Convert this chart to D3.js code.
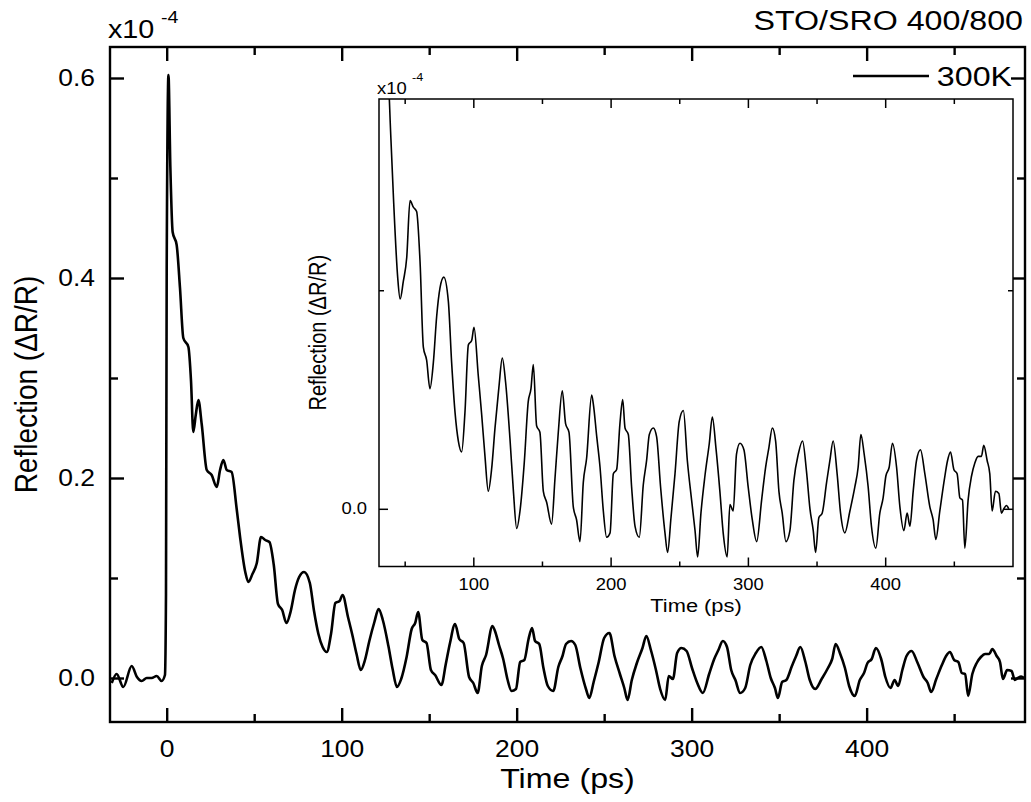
<!DOCTYPE html>
<html>
<head>
<meta charset="utf-8">
<script src="https://cdn.jsdelivr.net/npm/d3@7"></script>
<style>
  body { margin: 0; background: #fff; }
  text { font-family: "Liberation Sans", Arial, sans-serif; fill: #000; }
</style>
</head>
<body>
<svg id="chart" width="1031" height="802"></svg>
<script>
// Data (time in ps, reflection in units of 1e-4)
const timePs = [
  -31.4, -28.6, -24.8, -20.0, -17.0, -14.3, -11.4, -8.6, -5.7, -2.9, -1.0, -0.4,
  0.0, 1.0, 2.1, 3.4, 5.7, 7.6, 9.5, 12.4, 13.9, 15.2, 16.6, 18.1, 20.0, 22.9,
  25.7, 28.6, 30.5, 32.4, 34.3, 37.1, 40.0, 42.0, 44.9, 46.7, 49.0, 51.5, 53.9,
  56.3, 58.7, 61.2, 63.6, 66.0, 68.4, 70.9, 73.3, 75.7, 78.5, 81.8, 84.2, 86.7,
  89.1, 91.5, 93.9, 96.4, 98.8, 100.5, 103.6, 106.1, 108.5, 110.9, 113.3, 115.8,
  118.7, 121.1, 123.5, 126.7, 129.1, 131.6, 134.0, 137.1, 140.0, 142.0, 143.7,
  146.1, 148.5, 151.0, 153.4, 157.0, 159.5, 161.9, 164.8, 167.2, 169.7, 172.8,
  175.2, 177.7, 180.1, 182.5, 186.2, 187.4, 189.9, 192.3, 194.7, 197.1, 199.6,
  202.0, 204.4, 206.8, 208.8, 210.5, 212.9, 215.3, 217.8, 220.9, 223.8, 226.2,
  228.2, 231.1, 233.5, 236.4, 239.6, 241.5, 244.0, 246.9, 250.0, 253.0, 255.9,
  259.0, 261.5, 263.4, 265.8, 268.7, 271.9, 274.1, 276.7, 279.6, 282.0, 284.9,
  286.9, 289.3, 291.7, 294.2, 297.1, 300.2, 303.2, 306.4, 310.0, 312.9, 315.3,
  317.8, 320.2, 322.6, 325.0, 327.7, 330.6, 333.5, 336.7, 339.8, 342.7, 345.2,
  347.6, 349.3, 351.7, 354.1, 357.3, 359.7, 362.1, 365.0, 367.5, 370.6, 374.3,
  377.9, 380.3, 382.3, 384.7, 387.6, 390.0, 393.2, 396.1, 398.5, 400.5, 402.9,
  405.3, 408.3, 410.7, 413.6, 416.0, 418.0, 420.4, 422.8, 425.7, 428.9, 432.5,
  434.9, 436.9, 439.8, 443.0, 445.4, 447.6, 450.0, 452.4, 454.4, 456.3, 458.0,
  460.4, 462.9, 465.3, 467.7, 470.1, 471.8, 474.3, 476.2, 477.9, 480.3, 482.8,
  484.7, 486.4, 488.3, 490.0
];
const reflection = [
  -0.005, 0.004, -0.009, 0.012, 0.001, -0.003, 0.000, 0.000, 0.002, -0.003, 0.003, 0.084,
  0.408, 0.603, 0.510, 0.446, 0.433, 0.390, 0.340, 0.331, 0.297, 0.246, 0.263, 0.278, 0.254, 0.208,
  0.203, 0.191, 0.208, 0.218, 0.208, 0.206, 0.169, 0.140, 0.106, 0.096, 0.104, 0.115, 0.141,
  0.138, 0.136, 0.113, 0.074, 0.068, 0.055, 0.067, 0.088, 0.101, 0.106, 0.095, 0.067, 0.044,
  0.031, 0.026, 0.044, 0.075, 0.077, 0.083, 0.061, 0.043, 0.024, 0.008, 0.018, 0.037,
  0.056, 0.069, 0.058, 0.032, 0.009, -0.009, -0.001, 0.021, 0.049, 0.055, 0.066,
  0.038, 0.035, 0.008, 0.003, -0.007, 0.014, 0.035, 0.054, 0.039, 0.035, 0.001,
  -0.005, -0.015, 0.012, 0.023, 0.052, 0.048, 0.033, 0.019, -0.001, -0.013, -0.011,
  0.016, 0.018, 0.039, 0.050, 0.037, 0.034, 0.010, -0.008, -0.013, 0.011, 0.022,
  0.034, 0.037, 0.033, 0.010, -0.011, -0.020, -0.004, 0.016, 0.040, 0.045, 0.022,
  0.004, -0.010, -0.022, -0.002, 0.015, 0.030, 0.042, 0.028, 0.008, -0.011, -0.022,
  0.002, -0.001, 0.025, 0.030, 0.027, 0.010, -0.005, -0.015, 0.004, 0.019, 0.028,
  0.037, 0.031, 0.008, -0.002, -0.015, -0.010, 0.013, 0.025, 0.031, 0.017, 0.000,
  -0.010, -0.020, -0.004, -0.002, 0.012, 0.022, 0.031, 0.016, -0.002, -0.011, -0.001,
  0.010, 0.019, 0.034, 0.025, 0.010, -0.008, -0.018, -0.002, 0.005, 0.015, 0.019,
  0.030, 0.019, 0.001, -0.010, -0.002, -0.008, 0.008, 0.022, 0.027, 0.016, 0.001,
  -0.005, -0.014, -0.001, 0.013, 0.022, 0.026, 0.018, 0.016, 0.005, 0.004, -0.018,
  0.004, 0.015, 0.021, 0.024, 0.024, 0.029, 0.022, 0.016, -0.001, 0.008, 0.007,
  -0.002, 0.000, 0.0015, 0.000
];

// Tick values
const mainXMajor = [0, 100, 200, 300, 400];
const mainXMinor = [50, 150, 250, 350, 450];
const mainYMajor = [0.0, 0.2, 0.4, 0.6];
const mainYMinor = [0.1, 0.3, 0.5];
const insetXMajor = [100, 200, 300, 400];
const insetXMinor = [50, 150, 250, 350, 450];
const insetYMajor = [0.0];
const insetYMinor = [0.1];

const seriesLabel = "300K";
const sampleLabel = "STO/SRO 400/800";

// text in the source image is stretched horizontally
const SX = 1.15;

const svg = d3.select("#chart");
const data = timePs.map((t, i) => ({ t, v: reflection[i] }));

const mainBox = { left: 110, right: 1025, top: 47, bottom: 722 };
const insetBox = { left: 379, right: 1013, top: 99, bottom: 566.5 };

const x = d3.scaleLinear().domain([-32.4, 490.5]).range([mainBox.left, mainBox.right]);
const y = d3.scaleLinear().domain([-0.044, 0.631]).range([mainBox.bottom, mainBox.top]);
const xi = d3.scaleLinear().domain([31.3, 493.1]).range([insetBox.left, insetBox.right]);
const yi = d3.scaleLinear().domain([-0.0264, 0.1875]).range([insetBox.bottom, insetBox.top]);

function label(str, px, py, size, anchor, rotate) {
  return svg.append("text")
    .attr("transform", `translate(${px},${py}) scale(${SX},1)` + (rotate ? " rotate(-90)" : ""))
    .attr("text-anchor", anchor)
    .style("font-size", size + "px")
    .text(str);
}

// axes on all four sides, ticks pointing inward
function drawAxes(box, xs, ys, o) {
  const g = svg.append("g");
  const tidy = sel => {
    sel.attr("font-size", null).attr("font-family", null);
    sel.select(".domain").remove();
    sel.selectAll("line").attr("stroke", "#000").attr("stroke-width", o.sw);
    sel.selectAll("text").style("font-size", o.font + "px").attr("transform", `scale(${SX},1)`);
  };
  const add = (axis, tx, ty) => g.append("g").attr("transform", `translate(${tx},${ty})`).call(axis).call(tidy);

  add(d3.axisBottom(xs).tickValues(o.xMajor).tickSize(-o.major).tickPadding(o.xPad).tickFormat(d3.format("d")), 0, box.bottom);
  add(d3.axisBottom(xs).tickValues(o.xMinor).tickSize(-o.minor).tickFormat(""), 0, box.bottom);
  add(d3.axisTop(xs).tickValues(o.xMajor).tickSize(-o.major).tickFormat(""), 0, box.top);
  add(d3.axisTop(xs).tickValues(o.xMinor).tickSize(-o.minor).tickFormat(""), 0, box.top);

  add(d3.axisLeft(ys).tickValues(o.yMajor).tickSize(-o.major).tickPadding(o.yPad / SX)
    .tickFormat(o.yLabels ? d3.format(".1f") : ""), box.left, 0);
  add(d3.axisLeft(ys).tickValues(o.yMinor).tickSize(-o.minor).tickFormat(""), box.left, 0);
  add(d3.axisRight(ys).tickValues(o.yMajor).tickSize(-o.major).tickFormat(""), box.right, 0);
  add(d3.axisRight(ys).tickValues(o.yMinor).tickSize(-o.minor).tickFormat(""), box.right, 0);

  g.append("rect")
    .attr("x", box.left).attr("y", box.top)
    .attr("width", box.right - box.left).attr("height", box.bottom - box.top)
    .attr("fill", "none").attr("stroke", "#000").attr("stroke-width", o.sw);
}

// ---- main chart ----
svg.append("clipPath").attr("id", "clipMain").append("rect")
  .attr("x", mainBox.left).attr("y", mainBox.top)
  .attr("width", mainBox.right - mainBox.left).attr("height", mainBox.bottom - mainBox.top);

const mainLine = d3.line().x(d => x(d.t)).y(d => y(d.v)).curve(d3.curveMonotoneX);
svg.append("path")
  .datum(data)
  .attr("clip-path", "url(#clipMain)")
  .attr("d", mainLine)
  .attr("fill", "none").attr("stroke", "#000").attr("stroke-width", 2.6)
  .attr("stroke-linejoin", "round");

drawAxes(mainBox, x, y, {
  xMajor: mainXMajor, xMinor: mainXMinor, yMajor: mainYMajor, yMinor: mainYMinor,
  major: 14, minor: 8, sw: 2.4, font: 23, xPad: 19, yPad: 15, yLabels: true
});

label("Time (ps)", (mainBox.left + mainBox.right) / 2, 788, 28, "middle");
label("Reflection (\u0394R/R)", 37, (mainBox.top + mainBox.bottom) / 2, 28, "middle", true);
label("x10", 108, 38, 25, "start");
label("-4", 161, 23, 17, "start");
label(sampleLabel, 1023, 30, 28, "end");

// legend
svg.append("line")
  .attr("x1", 853).attr("x2", 929).attr("y1", 76).attr("y2", 76)
  .attr("stroke", "#000").attr("stroke-width", 2.6);
label(seriesLabel, 1012, 86, 28, "end");

// ---- inset ----
svg.append("rect")
  .attr("x", insetBox.left).attr("y", insetBox.top)
  .attr("width", insetBox.right - insetBox.left).attr("height", insetBox.bottom - insetBox.top)
  .attr("fill", "#fff");

svg.append("clipPath").attr("id", "clipInset").append("rect")
  .attr("x", insetBox.left).attr("y", insetBox.top)
  .attr("width", insetBox.right - insetBox.left).attr("height", insetBox.bottom - insetBox.top);

const insetLine = d3.line().x(d => xi(d.t)).y(d => yi(d.v)).curve(d3.curveMonotoneX);
svg.append("path")
  .datum(data)
  .attr("clip-path", "url(#clipInset)")
  .attr("d", insetLine)
  .attr("fill", "none").attr("stroke", "#000").attr("stroke-width", 1.6)
  .attr("stroke-linejoin", "round");

drawAxes(insetBox, xi, yi, {
  xMajor: insetXMajor, xMinor: insetXMinor, yMajor: insetYMajor, yMinor: insetYMinor,
  major: 9, minor: 5, sw: 1.5, font: 16, xPad: 12, yPad: 12, yLabels: true
});

label("Time (ps)", (insetBox.left + insetBox.right) / 2, 612, 19, "middle");
label("Reflection (\u0394R/R)", 326, (insetBox.top + insetBox.bottom) / 2, 20, "middle", true);
label("x10", 377, 94, 16, "start");
label("-4", 412, 81, 11, "start");
</script>
</body>
</html>
